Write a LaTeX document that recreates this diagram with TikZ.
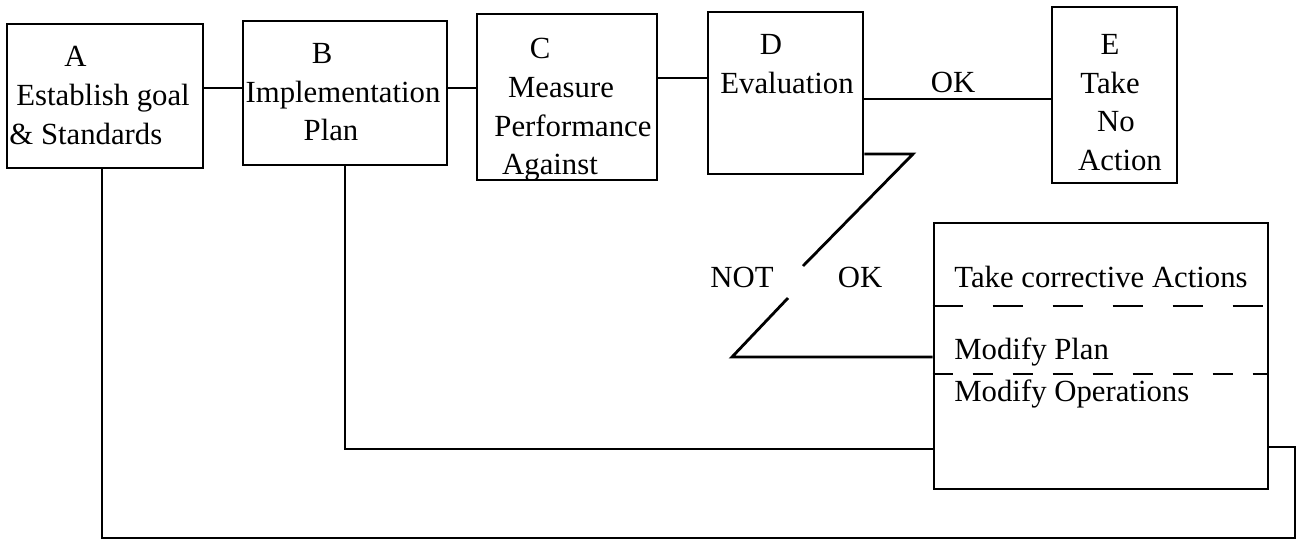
\documentclass[tikz,border=0pt]{standalone}
\usepackage{fontspec}
\setmainfont{Liberation Serif}
\begin{document}
\begin{tikzpicture}[x=0.02cm,y=-0.02cm,line width=1.6pt,
		font=\fontsize{17.5}{22}\selectfont,
		box/.style={draw,inner sep=0pt},
		txt/.style={inner sep=0pt,align=center},
		cutA/.style={line width=1.3pt,dash pattern=on 0.6cm off 0.6cm},
		cutB/.style={line width=1.3pt,dash pattern=on 0.4cm off 0.4cm}]
			\useasboundingbox (0,0) rectangle (1299,542);
			\node[box,minimum width=3.92cm,minimum height=2.88cm] (A) at (105,96) {};
			\node[box,minimum width=4.08cm,minimum height=2.88cm] (B) at (345,93) {};
			\node[box,minimum width=3.6cm,minimum height=3.32cm] (C) at (567,97) {};
			\node[box,minimum width=3.1cm,minimum height=3.24cm] (D) at (785.5,93) {};
			\node[box,minimum width=2.5cm,minimum height=3.52cm] (E) at (1114.5,95) {};
			\node[box,minimum width=6.68cm,minimum height=5.32cm] (F) at (1101,356) {};
			\node[txt,align=left,anchor=north west] (Atext) at (8,45) {\hspace*{1.1cm}A\\ \hspace*{0.14cm}Establish goal\\ \&~Standards};
			\node[txt,anchor=north] (Btext) at (343,42) {B\hspace*{0.84cm}\\ Implementation\\ Plan\hspace*{0.48cm}};
			\node[txt,anchor=north] (Ctext) at (561,37) {C\hspace*{0.84cm}\\ Measure\\ \hspace*{0.48cm}Performance\\ Against\hspace*{0.44cm}};
			\node[txt,anchor=north] (Dtext) at (787,33) {D\hspace*{0.64cm}\\ Evaluation};
			\node[txt,anchor=north] (Etext) at (1110,33) {E\\ Take\\ \hspace*{0.24cm}No\\ \hspace*{0.4cm}Action};
			\node[txt,anchor=base west] (Ftake) at (953,287) {Take corrective Actions};
			\node[txt,anchor=base west] (Fplan) at (953,359) {Modify Plan};
			\node[txt,anchor=base west] (Fops) at (953,401) {Modify Operations};
			\node[txt,anchor=base] (ok) at (953,92) {OK};
			\node[txt,anchor=base] (not) at (742,287) {NOT};
			\node[txt,anchor=base] (notok) at (860,287) {OK};
			\coordinate (ab) at (0,88);
			\coordinate (cd) at (0,78);
			\coordinate (de) at (0,99);
			\draw (A.east |- ab) -- (B.west |- ab);
			\draw (B.east |- ab) -- (C.west |- ab);
			\draw (C.east |- cd) -- (D.west |- cd);
			\draw (D.east |- de) -- (E.west |- de);
			\coordinate (zt) at (913,154);
			\coordinate (za) at (803,266);
			\coordinate (zb) at (788,298);
			\coordinate (zl) at (732,357);
			\draw (D.east |- zt) -- (zt) -- (za);
			\draw (zb) -- (zl) -- (F.west |- zl);
			\coordinate (d1) at (0,306);
			\coordinate (d2) at (0,374);
			\draw[cutA] (F.west |- d1) -- (F.east |- d1);
			\draw[cutB] (F.west |- d2) -- (F.east |- d2);
			\coordinate (fb) at (0,449);
			\draw (B.south) -- (B.south |- fb) -- (F.west |- fb);
			\coordinate (ret) at (1295,538);
			\coordinate (rs) at (1295,447);
			\draw ([xshift=-0.06cm]A.south) -- ([xshift=-0.06cm]A.south |- ret) -- (ret) -- (rs) -- (F.east |- rs);
		\end{tikzpicture}
\end{document}
